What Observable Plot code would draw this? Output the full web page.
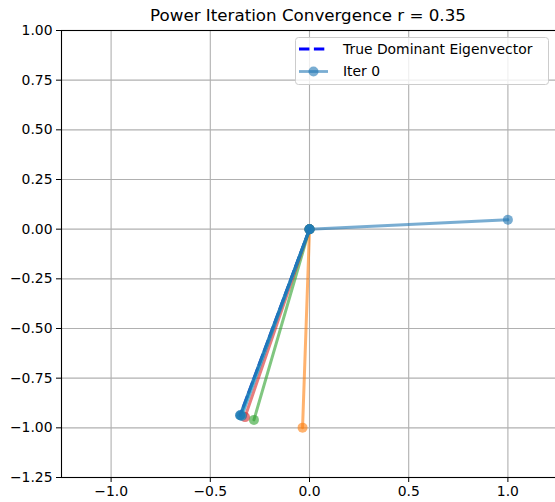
<!DOCTYPE html>
<html><head><meta charset="utf-8">
<script src="https://cdn.jsdelivr.net/npm/d3@7"></script>
<script src="https://cdn.jsdelivr.net/npm/@observablehq/plot@0.6"></script>
<style>
body{margin:0;background:#fff;font-family:"DejaVu Sans",sans-serif;}
#wrap{position:relative;width:555px;height:502px;overflow:hidden;}
#title{height:26px;padding-left:61px;width:494px;text-align:center;font-size:16.7px;line-height:30px;color:#000;white-space:nowrap;}
#legend{position:absolute;left:295px;top:37px;}
</style></head><body>
<div id="wrap"><div id="title"></div><div id="chart"></div><div id="legend"></div></div>
<script>
const chartTitle = "Power Iteration Convergence r = 0.35";
const iterNames = ["Iter 0", "Iter 1", "Iter 2", "Iter 3", "Iter 4", "Iter 5", "Iter 6", "Iter 7"];
const endX = [1.0, -0.035, -0.28, -0.325, -0.341, -0.346, -0.349, -0.350];
const endY = [0.047, -0.999, -0.960, -0.946, -0.940, -0.938, -0.937, -0.937];
const iterColors = ["#1f77b4", "#ff7f0e", "#2ca02c", "#d62728", "#1f77b4", "#17becf", "#1f77b4", "#1f77b4"];
const trueVecX = [0, -0.349];
const trueVecY = [0, -0.937];
const xTicks = [-1.0, -0.5, 0.0, 0.5, 1.0];
const yTicks = [-1.25, -1.0, -0.75, -0.5, -0.25, 0.0, 0.25, 0.5, 0.75, 1.0];
const legendLabels = ["True Dominant Eigenvector", "Iter 0"];

document.getElementById("title").textContent = chartTitle;

const minus = s => s.replace("-", "\u2212");
const segs = iterNames.map((n, i) => [
  {x: 0, y: 0, iter: n, color: iterColors[i]},
  {x: endX[i], y: endY[i], iter: n, color: iterColors[i]}
]);
const trueVec = trueVecX.map((x, i) => ({x, y: trueVecY[i]}));

const iterMarks = segs.flatMap(s => [
  Plot.line(s, {x: "x", y: "y", stroke: "color", strokeWidth: 3, strokeOpacity: 0.6}),
  Plot.dot(s, {x: "x", y: "y", fill: "color", fillOpacity: 0.6, r: 5})
]);

const chart = Plot.plot({
  width: 555,
  height: 476,
  marginTop: 4,
  marginBottom: 25,
  marginLeft: 61,
  marginRight: -2,
  style: {fontFamily: "DejaVu Sans, sans-serif", fontSize: "13.9px", color: "#000", background: "#fff", overflow: "visible"},
  x: {domain: [-1.25, 1.25]},
  y: {domain: [-1.25, 1.0]},
  marks: [
    Plot.gridX(xTicks, {stroke: "#b0b0b0", strokeOpacity: 1, strokeWidth: 1.1}),
    Plot.gridY(yTicks, {stroke: "#b0b0b0", strokeOpacity: 1, strokeWidth: 1.1}),
    Plot.line(trueVec, {x: "x", y: "y", stroke: "#0000ff", strokeWidth: 2.8, strokeDasharray: "10.4,4.5"}),
    ...iterMarks,
    Plot.frame({stroke: "#000", strokeWidth: 1.1}),
    Plot.axisX(xTicks, {tickSize: 5, tickPadding: 4, tickFormat: d => minus(d.toFixed(1)), label: null}),
    Plot.axisY(yTicks, {tickSize: 5, tickPadding: 4, tickFormat: d => minus(d.toFixed(2)), label: null})
  ]
});
document.getElementById("chart").appendChild(chart);

// legend
const lg = d3.select("#legend").append("svg").attr("width", 256).attr("height", 50)
  .style("font-family", "DejaVu Sans, sans-serif").style("font-size", "13.9px");
lg.append("rect").attr("x", 0.5).attr("y", 0.5).attr("width", 253).attr("height", 47).attr("rx", 3)
  .attr("fill", "#fff").attr("fill-opacity", 0.8).attr("stroke", "#cccccc");
const rows = [
  {label: legendLabels[0], color: "#0000ff", dash: "10.4,4.5", opacity: 1, dot: false},
  {label: legendLabels[1], color: iterColors[0], dash: null, opacity: 0.6, dot: true}
];
rows.forEach((r, i) => {
  const cy = 12 + i * 22.5;
  lg.append("line").attr("x1", 4).attr("x2", 33).attr("y1", cy).attr("y2", cy)
    .attr("stroke", r.color).attr("stroke-width", 2.8).attr("stroke-opacity", r.opacity)
    .attr("stroke-dasharray", r.dash);
  if (r.dot) lg.append("circle").attr("cx", 18.5).attr("cy", cy).attr("r", 5)
    .attr("fill", r.color).attr("fill-opacity", r.opacity);
  lg.append("text").attr("x", 48).attr("y", cy).attr("dy", "0.35em").attr("fill", "#000").text(r.label);
});
</script>
</body></html>
